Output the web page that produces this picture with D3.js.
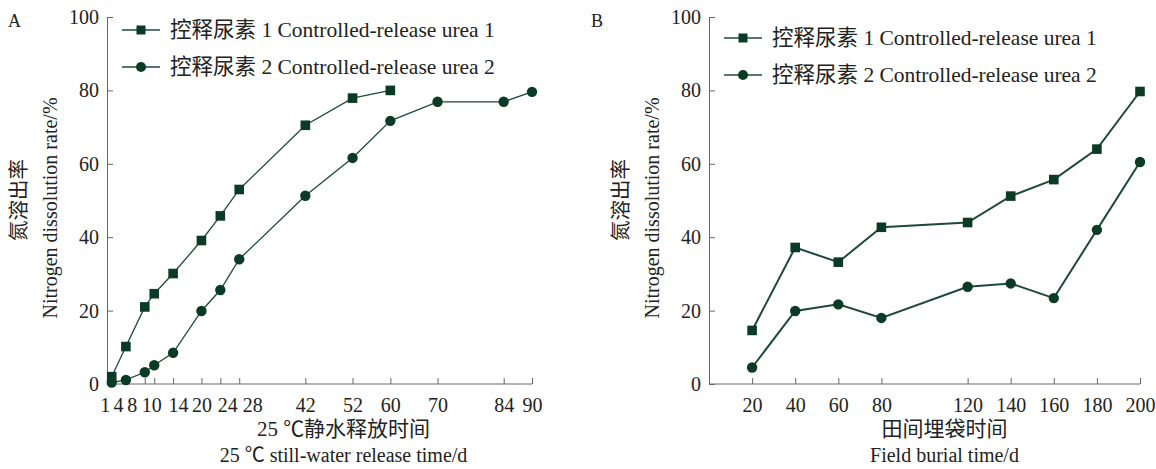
<!DOCTYPE html>
<html>
<head>
<meta charset="utf-8">
<script src="https://cdn.jsdelivr.net/npm/d3@7"></script>
<style>
  body { margin: 0; background: #fff; }
  svg { display: block; }
  text { font-family: "Liberation Serif", "Noto Sans CJK SC", serif; fill: #222; }
</style>
</head>
<body>
<script>
// panel A: 25 °C still-water release
const daysA = [1, 4, 8, 10, 14, 20, 24, 28, 42, 52, 60, 70, 84, 90];
const urea1A = [2.0, 10.2, 21.0, 24.6, 30.1, 39.1, 45.8, 53.0, 70.5, 77.9, 80.0];
const urea2A = [0.4, 1.1, 3.2, 5.1, 8.5, 19.9, 25.6, 34.0, 51.3, 61.6, 71.7, 76.9, 76.9, 79.6];
const ticksA = [1, 4, 8, 10, 14, 20, 24, 28, 42, 52, 60, 70, 84, 90];

// panel B: field burial
const daysB = [20, 40, 60, 80, 120, 140, 160, 180, 200];
const urea1B = [14.6, 37.2, 33.2, 42.7, 44.0, 51.2, 55.7, 64.0, 79.7];
const urea2B = [4.5, 19.9, 21.7, 18.0, 26.5, 27.4, 23.4, 42.0, 60.5];
const ticksB = [20, 40, 60, 80, 120, 140, 160, 180, 200];

const yTicks = [0, 20, 40, 60, 80, 100];
const legendNames = ["控释尿素 1 Controlled-release urea 1", "控释尿素 2 Controlled-release urea 2"];

const W = 1156, H = 469;
const FONT = '"Liberation Serif", "Noto Sans CJK SC", serif';
const lineColor = "#1e4a37", markColor = "#0b3b27", axisColor = "#666";

const svg = d3.select("body").append("svg")
  .attr("width", W).attr("height", H);

// crowded labels on the A axis are nudged apart like the original
const labelShiftA = { 1: -7, 4: -8, 8: -13, 10: -3, 14: 5, 20: 0, 24: 7, 28: 13 };

function panel(opt) {
  const x = d3.scaleLinear().domain(opt.xDomain).range(opt.xRange);
  const y = d3.scaleLinear().domain([0, 100]).range([384, 17]);
  const g = svg.append("g");

  // x axis, ticks inward
  const xa = g.append("g")
    .attr("transform", "translate(0," + y(0) + ")")
    .call(d3.axisBottom(x).tickValues(opt.ticks).tickSizeInner(-6).tickSizeOuter(0).tickPadding(14))
    .attr("font-family", FONT);
  xa.select(".domain").attr("stroke", axisColor).attr("d", "M" + opt.xRange[0] + ",0H" + opt.xRange[1]);
  xa.selectAll(".tick line").attr("stroke", axisColor);
  xa.selectAll(".tick text")
    .attr("font-size", 20).attr("fill", "#222")
    .attr("dx", d => (opt.shift && opt.shift[d]) || 0);

  // y axis, ticks inward
  const ya = g.append("g")
    .attr("transform", "translate(" + opt.xRange[0] + ",0)")
    .call(d3.axisLeft(y).tickValues(yTicks).tickSizeInner(-6).tickSizeOuter(0).tickPadding(8))
    .attr("font-family", FONT);
  ya.select(".domain").attr("stroke", axisColor);
  ya.selectAll(".tick line").attr("stroke", axisColor);
  ya.selectAll(".tick text").attr("font-size", 20).attr("fill", "#222");

  const line = d3.line().x(d => x(d[0])).y(d => y(d[1]));
  const s1 = opt.x1.map((d, i) => [d, opt.v1[i]]);
  const s2 = opt.x2.map((d, i) => [d, opt.v2[i]]);

  g.append("path").datum(s2).attr("d", line)
    .attr("fill", "none").attr("stroke", lineColor).attr("stroke-width", opt.lw);
  g.append("path").datum(s1).attr("d", line)
    .attr("fill", "none").attr("stroke", lineColor).attr("stroke-width", opt.lw);

  g.selectAll(".c").data(s2).enter().append("circle")
    .attr("cx", d => x(d[0])).attr("cy", d => y(d[1])).attr("r", 5.2)
    .attr("fill", markColor);
  g.selectAll(".s").data(s1).enter().append("rect")
    .attr("x", d => x(d[0]) - 4.8).attr("y", d => y(d[1]) - 4.8)
    .attr("width", 9.6).attr("height", 9.6).attr("fill", markColor);

  // legend
  const lg = g.append("g").attr("transform", "translate(" + opt.legend[0] + "," + opt.legend[1] + ")");
  legendNames.forEach((name, i) => {
    const row = lg.append("g").attr("transform", "translate(0," + i * 37 + ")");
    row.append("line").attr("x1", 0).attr("x2", 38).attr("y1", 0).attr("y2", 0)
      .attr("stroke", lineColor).attr("stroke-width", 1.5);
    if (i === 0) row.append("rect").attr("x", 14.5).attr("y", -4.5).attr("width", 9).attr("height", 9).attr("fill", markColor);
    else row.append("circle").attr("cx", 19).attr("cy", 0).attr("r", 5).attr("fill", markColor);
    row.append("text").attr("x", 48).attr("y", 7).attr("font-size", 21.5).text(name);
  });

  // panel letter
  g.append("text").attr("x", opt.letter[0]).attr("y", 27).attr("font-size", 18).text(opt.name);

  // axis titles
  const cx = (opt.xRange[0] + opt.xRange[1]) / 2 + opt.titleDx;
  g.append("text").attr("x", cx).attr("y", 436).attr("text-anchor", "middle").attr("font-size", 21).text(opt.xTitle[0]);
  g.append("text").attr("x", cx).attr("y", 462).attr("text-anchor", "middle").attr("font-size", 20).text(opt.xTitle[1]);

  g.append("text").attr("transform", "translate(" + (opt.xRange[0] - 81) + ",200) rotate(-90)")
    .attr("text-anchor", "middle").attr("font-size", 20.5).text("氮溶出率");
  g.append("text").attr("transform", "translate(" + (opt.xRange[0] - 50) + ",208) rotate(-90)")
    .attr("text-anchor", "middle").attr("font-size", 20).text("Nitrogen dissolution rate/%");
}

panel({
  name: "A", letter: [8, 27],
  xDomain: [0, 90], xRange: [107, 532], ticks: ticksA, shift: labelShiftA,
  x1: daysA.slice(0, urea1A.length), v1: urea1A, x2: daysA, v2: urea2A,
  lw: 1.3, legend: [122, 30], titleDx: 24,
  xTitle: ["25 ℃静水释放时间", "25 ℃ still-water release time/d"]
});

panel({
  name: "B", letter: [591, 27],
  xDomain: [0, 200], xRange: [709, 1140], ticks: ticksB, shift: null,
  x1: daysB, v1: urea1B, x2: daysB, v2: urea2B,
  lw: 2, legend: [724, 38], titleDx: 20,
  xTitle: ["田间埋袋时间", "Field burial time/d"]
});
</script>
</body>
</html>
